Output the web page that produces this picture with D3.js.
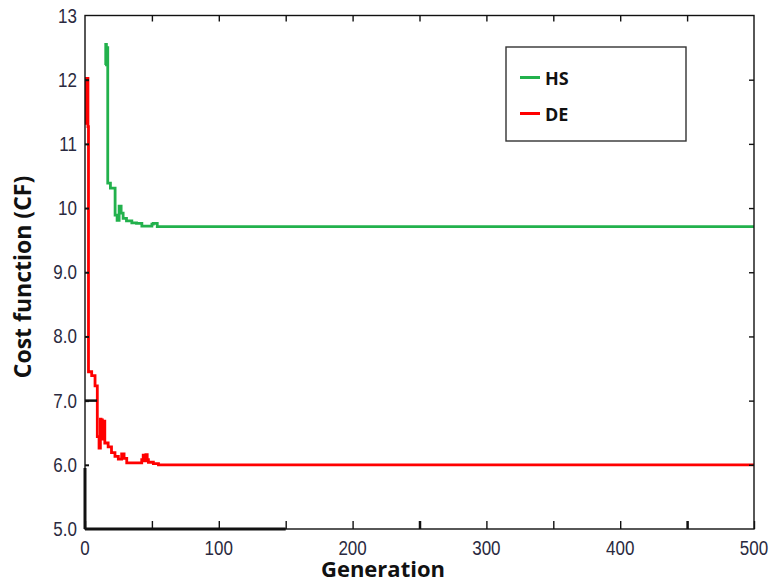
<!DOCTYPE html>
<html><head><meta charset="utf-8">
<script src="https://cdn.jsdelivr.net/npm/d3@7"></script>
<style>body{margin:0;background:#fff}</style>
</head><body><svg id="c" width="773" height="583"></svg>
<script>
// ---- data ----
const hsGen = [15, 15.5, 16, 16.5, 17, 19, 22.5, 24, 25.5, 27, 28.5, 31, 35, 38.5, 42.5, 50, 51, 54, 500];
const hsVal = [12.23, 12.55, 12.3, 12.5, 10.39, 10.31, 9.89, 9.81, 10.03, 9.92, 9.84, 9.80, 9.77, 9.76, 9.72, 9.75, 9.76, 9.71, 9.71];
const deGen = [0, 1, 2.2, 2.6, 5, 7.5, 9.2, 10.5, 11.5, 12, 12.5, 13, 13.5, 14.8, 17.3, 19.8, 22.4, 24.9, 27.4, 29.2, 31.2, 42.4, 43.5, 44.5, 45.5, 46.5, 47.4, 51.1, 54.9, 500];
const deVal = [11.32, 12.02, 11.27, 7.45, 7.39, 7.23, 6.44, 6.26, 6.71, 6.45, 6.70, 6.40, 6.68, 6.34, 6.28, 6.19, 6.13, 6.09, 6.17, 6.10, 6.03, 6.08, 6.15, 6.06, 6.16, 6.08, 6.04, 6.02, 6.0, 6.0];
const xTickValues = [0, 50, 100, 150, 200, 250, 300, 350, 400, 450, 500];
const xTickLabels = ["0", "", "100", "", "200", "", "300", "", "400", "", "500"];
const yTickValues = [5, 6, 7, 8, 9, 10, 11, 12, 13];
const yTickLabels = ["5.0", "6.0", "7.0", "8.0", "9.0", "10", "11", "12", "13"];
const seriesNames = ["HS", "DE"];
const seriesColors = ["#22b14c", "#ff0000"];
const xTitle = "Generation";
const yTitle = "Cost function (CF)";

// ---- layout ----
const svg = d3.select("#c");
const L = 85, R = 754, T = 15.5, B = 529;
const x = d3.scaleLinear().domain([0, 500]).range([L, R]);
const y = d3.scaleLinear().domain([5, 13]).range([B, T]);

// series
const line = d3.line().x(d => x(d[0])).y(d => y(d[1])).curve(d3.curveStepAfter);
const series = [
  { name: seriesNames[0], color: seriesColors[0], pts: hsGen.map((g, i) => [g, hsVal[i]]) },
  { name: seriesNames[1], color: seriesColors[1], pts: deGen.map((g, i) => [g, deVal[i]]) }
];
svg.append("g").selectAll("path").data(series).join("path")
  .attr("d", d => line(d.pts))
  .attr("fill", "none").attr("stroke", d => d.color)
  .attr("stroke-width", 2.8).attr("stroke-linejoin", "miter");

// frame
const frame = svg.append("g").attr("stroke", "#111").attr("fill", "none");
frame.append("rect").attr("x", L).attr("y", T).attr("width", R - L).attr("height", B - T).attr("stroke-width", 1.4);
// thicker artefact segments
frame.append("line").attr("x1", x(0)).attr("x2", x(150)).attr("y1", B).attr("y2", B).attr("stroke-width", 3);
frame.append("line").attr("x1", L).attr("x2", L).attr("y1", y(5)).attr("y2", y(5.95)).attr("stroke-width", 3);
frame.append("line").attr("x1", L).attr("x2", x(9)).attr("y1", y(7)).attr("y2", y(7)).attr("stroke-width", 2.5);

// x axis bottom (inward ticks)
const xAxis = d3.axisBottom(x).tickValues(xTickValues).tickSizeInner(-8).tickSizeOuter(0)
  .tickFormat((d, i) => "");
const gx = svg.append("g").attr("transform", `translate(0,${B})`).call(xAxis);
gx.select(".domain").remove();
gx.selectAll(".tick line").attr("stroke", "#111").attr("stroke-width", (d) => (d === 250 || d === 450) ? 2.5 : 1.4);
// top ticks
const gxt = svg.append("g").attr("transform", `translate(0,${T})`).call(d3.axisTop(x).tickValues(xTickValues.slice(1, -1)).tickSizeInner(-6).tickFormat(""));
gxt.select(".domain").remove();
gxt.selectAll(".tick line").attr("stroke", "#111").attr("stroke-width", 1.4);

// x labels
svg.append("g").selectAll("text").data(xTickValues.map((v, i) => [v, xTickLabels[i]]).filter(d => d[1] !== ""))
  .join("text")
  .attr("transform", d => `translate(${x(d[0])},${B + 26}) scale(1,1.22)`)
  .attr("text-anchor", "middle")
  .attr("font-family", "Liberation Sans, Arial, sans-serif").attr("font-size", 17)
  .attr("fill", "#2a2a40").text(d => d[1]);

// y axis left ticks
const gy = svg.append("g").attr("transform", `translate(${L},0)`)
  .call(d3.axisLeft(y).tickValues(yTickValues.slice(1, -1)).tickSizeInner(-4).tickFormat(""));
gy.select(".domain").remove();
gy.selectAll(".tick line").attr("stroke", "#111").attr("stroke-width", 2);
// right ticks
const gyr = svg.append("g").attr("transform", `translate(${R},0)`)
  .call(d3.axisRight(y).tickValues(yTickValues.slice(1, -1)).tickSizeInner(-5).tickFormat(""));
gyr.select(".domain").remove();
gyr.selectAll(".tick line").attr("stroke", "#111").attr("stroke-width", 1.4);

// y labels
svg.append("g").selectAll("text").data(yTickValues.map((v, i) => [v, yTickLabels[i]]))
  .join("text")
  .attr("transform", d => `translate(77,${y(d[0]) + 7}) scale(1,1.22)`)
  .attr("text-anchor", "end")
  .attr("font-family", "Liberation Sans, Arial, sans-serif").attr("font-size", 17)
  .attr("fill", "#2a2a40").text(d => d[1]);

// axis titles
svg.append("text").attr("x", 383).attr("y", 577).attr("text-anchor", "middle")
  .attr("font-family", "Open Sans, sans-serif").attr("font-weight", "bold").attr("font-size", 22)
  .attr("fill", "#111").text(xTitle);
svg.append("text").attr("transform", "translate(31,277) rotate(-90)").attr("text-anchor", "middle")
  .attr("font-family", "Open Sans, sans-serif").attr("font-weight", "bold").attr("font-size", 23)
  .attr("fill", "#111").text(yTitle);

// legend
const lg = svg.append("g");
lg.append("rect").attr("x", 506).attr("y", 47).attr("width", 180).attr("height", 94)
  .attr("fill", "#fff").attr("stroke", "#333").attr("stroke-width", 1.4);
const items = lg.selectAll("g.it").data(series).join("g").attr("class", "it")
  .attr("transform", (d, i) => `translate(0,${77.5 + i * 36})`);
items.append("line").attr("x1", 520).attr("x2", 540).attr("y1", 0).attr("y2", 0)
  .attr("stroke", d => d.color).attr("stroke-width", 3);
items.append("text").attr("x", 545).attr("y", 7)
  .attr("font-family", "Open Sans, sans-serif").attr("font-weight", "bold").attr("font-size", 18)
  .attr("fill", "#111").text(d => d.name);
</script></body></html>
